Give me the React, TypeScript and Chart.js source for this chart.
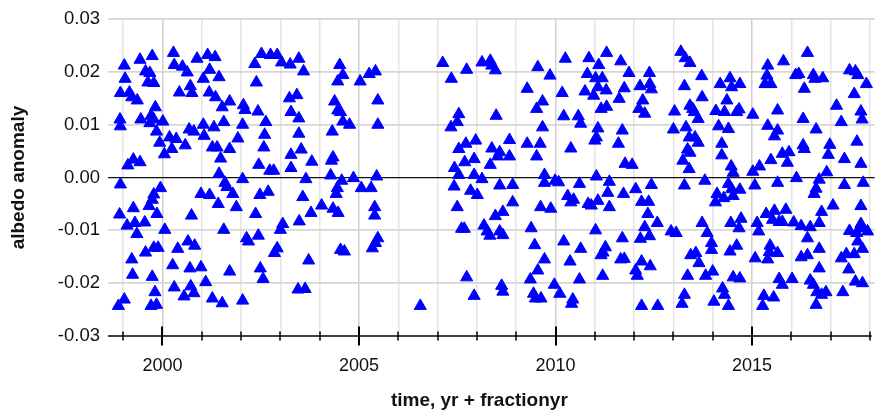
import { useEffect, useRef } from "react";
import { Chart, registerables } from "chart.js";

Chart.register(...registerables);

// Observation time (yr + fraction of year)
const years: number[] = [
  1999.03, 1999.05, 1999.43, 1999.74, 2000.28, 2000.30, 1999.57, 1999.68, 1999.63, 1999.78,
  2000.51, 2000.63, 1998.93, 1999.16, 1999.22, 1999.36, 2000.43, 2000.71, 2000.75, 1999.82,
  1998.92, 1998.93, 1999.45, 1999.71, 1999.78, 1999.68, 2000.01, 1999.85, 1999.93, 2000.18,
  2000.35, 2000.24, 2000.05, 2000.58, 2000.68, 2000.80, 1999.12, 1999.26, 1999.43, 1998.93,
  1999.95, 1999.78, 1999.74, 1999.66, 1999.26, 1998.91, 1999.10, 1999.30, 1999.55, 1999.35,
  1999.86, 2000.06, 2000.74, 1999.57, 1999.78, 1999.89, 1999.22, 1999.24, 1999.74, 2000.39,
  2000.26, 2000.65, 2000.82, 2000.70, 1999.81, 1999.03, 1998.88, 1999.71, 1999.85, 2000.30,
  2000.55, 2000.72, 2000.80,
  2000.88, 2001.15, 2001.34, 2001.20, 2001.04, 2001.44, 2001.19, 2001.35, 2001.52, 2001.71,
  2002.06, 2002.10, 2002.43, 2002.35, 2002.52, 2002.75, 2002.92, 2003.03, 2003.25, 2002.39,
  2003.23, 2003.27, 2001.04, 2001.06, 2001.31, 2001.56, 2002.04, 2002.63, 2002.60, 2001.92,
  2001.27, 2001.39, 2001.71, 2001.48, 2002.58, 2002.45, 2002.73, 2002.83, 2003.27, 2003.27,
  2001.44, 2002.04, 2001.59, 2001.64, 2001.79, 2000.98, 2001.20, 2001.42, 2001.88, 2002.48,
  2002.69, 2002.37, 2003.06, 2003.00, 2001.56, 2002.14, 2002.19, 2002.44, 2002.92, 2002.85,
  2000.98, 2001.71, 2002.49, 2002.56, 2001.10, 2001.27, 2001.52, 2002.04,
  2003.47, 2003.59, 2004.51, 2004.59, 2004.46, 2005.03, 2005.26, 2005.42, 2007.13, 2007.35,
  2003.42, 2003.47, 2005.48, 2004.38, 2004.46, 2004.53, 2004.59, 2004.76, 2005.48, 2003.47,
  2004.32, 2003.53, 2003.80, 2004.34, 2004.30, 2004.28, 2003.65, 2004.56, 2004.86, 2005.45,
  2004.45, 2004.42, 2005.06, 2005.31, 2003.57, 2004.05, 2004.34, 2004.47, 2003.78, 2005.40,
  2005.40, 2003.48, 2005.48, 2005.42, 2005.34, 2004.53, 2004.63, 2003.72, 2003.45, 2003.63,
  2006.56, 2007.34, 2007.54, 2007.50, 2007.54, 2007.43, 2007.54, 2007.42, 2007.50, 2007.61,
  2007.74, 2008.13, 2008.34, 2008.38, 2008.47, 2009.55, 2009.86, 2009.28, 2009.67, 2009.52,
  2008.49, 2009.67, 2007.97, 2007.72, 2008.38, 2008.58, 2008.53, 2008.83, 2008.83, 2007.93,
  2008.34, 2009.28, 2009.61, 2009.52, 2007.69, 2007.93, 2008.13, 2009.72, 2009.72, 2009.99,
  2008.58, 2008.91, 2007.84, 2008.01, 2008.91, 2008.66, 2008.47, 2009.62, 2009.88, 2007.68,
  2008.18, 2008.26, 2008.33, 2008.58, 2008.66, 2009.38, 2009.47, 2009.72, 2009.55, 2009.36,
  2007.74, 2008.63, 2008.66, 2007.93, 2009.44, 2009.49, 2009.63, 2009.97,
  2010.25, 2010.85, 2011.30, 2011.10, 2011.66, 2011.87, 2012.39, 2010.81, 2011.02, 2011.19,
  2011.08, 2011.29, 2010.97, 2010.75, 2011.75, 2011.62, 2010.17, 2012.15, 2012.40, 2012.44,
  2012.22, 2012.12, 2012.27, 2011.16, 2011.30, 2010.21, 2010.58, 2010.64, 2011.08, 2011.04,
  2011.00, 2011.70, 2011.60, 2010.39, 2011.77, 2011.95, 2010.08, 2010.61, 2011.04, 2011.37,
  2011.33, 2011.73, 2012.04, 2012.44, 2010.31, 2010.46, 2010.39, 2010.83, 2010.91, 2011.08,
  2011.37, 2012.19, 2012.37, 2012.35, 2012.27, 2012.39, 2012.16, 2011.02, 2011.70, 2010.21,
  2010.64, 2011.27, 2011.21, 2011.16, 2011.66, 2011.75, 2010.37, 2012.19, 2012.41, 2012.04,
  2012.08, 2011.20, 2010.61, 2010.11, 2010.44, 2010.41, 2012.19,
  2012.59, 2012.60, 2013.19, 2013.30, 2013.42, 2013.72, 2013.28, 2013.73, 2013.03, 2013.42,
  2013.49, 2013.53, 2013.63, 2013.32, 2013.00, 2013.40, 2013.55, 2013.63, 2013.36, 2013.42,
  2013.24, 2013.40, 2013.28, 2013.80, 2014.19, 2014.44, 2014.48, 2014.69, 2014.36, 2014.08,
  2014.30, 2014.67, 2014.61, 2015.02, 2014.15, 2014.40, 2014.23, 2014.23, 2014.47, 2014.52,
  2015.02, 2015.19, 2014.40, 2014.48, 2014.69, 2014.52, 2014.11, 2014.07, 2014.28, 2015.07,
  2014.46, 2014.72, 2014.67, 2013.73, 2013.86, 2013.97, 2013.97, 2012.94, 2013.07, 2015.13,
  2015.17, 2014.61, 2014.44, 2013.44, 2013.57, 2013.65, 2015.08, 2013.36, 2013.82, 2014.00,
  2014.52, 2014.69, 2014.25, 2014.30, 2013.28, 2013.22, 2014.03, 2014.40,
  2015.40, 2015.80, 2016.41, 2015.38, 2015.48, 2015.33, 2016.11, 2016.19, 2016.56, 2016.60,
  2016.80, 2016.33, 2017.48, 2017.63, 2017.69, 2017.91, 2017.60, 2017.15, 2017.27, 2017.77,
  2017.80, 2015.65, 2016.30, 2016.63, 2015.40, 2015.65, 2015.57, 2016.30, 2016.33, 2016.98,
  2016.94, 2017.67, 2015.77, 2015.94, 2015.90, 2015.48, 2017.35, 2017.77, 2016.90, 2016.13,
  2015.65, 2016.71, 2016.63, 2016.58, 2017.35, 2017.83, 2017.06, 2017.77, 2015.36, 2015.57,
  2015.86, 2015.52, 2015.69, 2015.77, 2016.06, 2016.25, 2016.48, 2016.71, 2016.77, 2017.48,
  2017.77, 2017.66, 2017.94, 2017.81, 2016.41, 2015.46, 2015.44, 2015.40, 2015.65, 2017.69,
  2017.81, 2016.25, 2016.41, 2016.71, 2017.27, 2017.40, 2017.60, 2017.46, 2016.71, 2016.02,
  2015.69, 2015.77, 2016.48, 2016.56, 2017.63, 2017.81, 2016.65, 2016.77, 2016.88, 2017.31,
  2015.30, 2015.55, 2015.27, 2016.63,
];

// Albedo anomaly for each observation
const anomaly: number[] = [
  0.0212, 0.0187, 0.0223, 0.0230, 0.0236, 0.0213, 0.0201, 0.0198, 0.0180, 0.0179,
  0.0210, 0.0199, 0.0160, 0.0161, 0.0152, 0.0146, 0.0161, 0.0173, 0.0160, 0.0133,
  0.0110, 0.0097, 0.0110, 0.0117, 0.0110, 0.0103, 0.0106, 0.0087, 0.0066, 0.0076,
  0.0073, 0.0054, 0.0044, 0.0061, 0.0091, 0.0087, 0.0023, 0.0034, 0.0029, -0.0013,
  -0.0020, -0.0032, -0.0042, -0.0054, -0.0058, -0.0070, -0.0091, -0.0086, -0.0085, -0.0107,
  -0.0069, -0.0099, -0.0072, -0.0142, -0.0133, -0.0133, -0.0155, -0.0184, -0.0188, -0.0135,
  -0.0166, -0.0121, -0.0129, -0.0172, -0.0217, -0.0231, -0.0243, -0.0243, -0.0241, -0.0208,
  -0.0225, -0.0206, -0.0219,
  0.0225, 0.0232, 0.0228, 0.0204, 0.0187, 0.0190, 0.0161, 0.0152, 0.0133, 0.0144,
  0.0137, 0.0128, 0.0125, 0.0215, 0.0234, 0.0232, 0.0232, 0.0218, 0.0214, 0.0180,
  0.0150, 0.0124, 0.0100, 0.0079, 0.0095, 0.0105, 0.0100, 0.0105, 0.0081, 0.0074,
  0.0057, 0.0057, 0.0054, 0.0036, 0.0057, 0.0024, 0.0013, 0.0013, 0.0043, 0.0018,
  0.0007, -0.0003, -0.0010, -0.0018, -0.0031, -0.0031, -0.0033, -0.0050, -0.0056, -0.0033,
  -0.0027, -0.0069, -0.0088, -0.0099, -0.0099, -0.0115, -0.0121, -0.0110, -0.0134, -0.0143,
  -0.0170, -0.0178, -0.0172, -0.0192, -0.0198, -0.0229, -0.0238, -0.0233,
  0.0225, 0.0201, 0.0213, 0.0194, 0.0182, 0.0182, 0.0196, 0.0201, 0.0217, 0.0187,
  0.0156, 0.0112, 0.0146, 0.0144, 0.0127, 0.0124, 0.0106, 0.0100, 0.0100, 0.0083,
  0.0087, 0.0053, 0.0030, 0.0038, 0.0032, 0.0004, -0.0003, -0.0006, -0.0001, 0.0002,
  -0.0020, -0.0031, -0.0020, -0.0020, -0.0037, -0.0053, -0.0059, -0.0067, -0.0067, -0.0056,
  -0.0072, -0.0083, -0.0115, -0.0124, -0.0134, -0.0137, -0.0140, -0.0157, -0.0212, -0.0211,
  -0.0243, 0.0095, 0.0120, 0.0105, 0.0054, 0.0018, 0.0005, -0.0017, -0.0056, -0.0097,
  0.0204, 0.0218, 0.0221, 0.0212, 0.0203, 0.0209, 0.0193, 0.0168, 0.0144, 0.0130,
  0.0117, 0.0095, 0.0070, 0.0064, 0.0055, 0.0048, 0.0040, 0.0071, 0.0040, 0.0035,
  0.0024, 0.0064, 0.0064, 0.0040, 0.0029, 0.0005, -0.0003, 0.0005, -0.0010, -0.0006,
  -0.0015, -0.0014, -0.0025, -0.0033, -0.0047, -0.0065, -0.0073, -0.0056, -0.0059, -0.0097,
  -0.0091, -0.0102, -0.0110, -0.0102, -0.0109, -0.0096, -0.0128, -0.0155, -0.0176, -0.0193,
  -0.0189, -0.0205, -0.0216, -0.0224, -0.0220, -0.0229, -0.0229, -0.0203,
  0.0225, 0.0226, 0.0236, 0.0213, 0.0220, 0.0198, 0.0198, 0.0196, 0.0188, 0.0188,
  0.0171, 0.0165, 0.0155, 0.0163, 0.0169, 0.0149, 0.0160, 0.0173, 0.0177, 0.0167,
  0.0146, 0.0130, 0.0121, 0.0130, 0.0134, 0.0116, 0.0116, 0.0102, 0.0093, 0.0076,
  0.0070, 0.0089, 0.0064, 0.0055, 0.0026, 0.0024, -0.0009, -0.0012, 0.0002, -0.0008,
  -0.0029, -0.0031, -0.0022, -0.0014, -0.0035, -0.0042, -0.0047, -0.0050, -0.0053, -0.0044,
  -0.0056, -0.0046, -0.0046, -0.0069, -0.0094, -0.0111, -0.0116, -0.0100, -0.0115, -0.0121,
  -0.0135, -0.0132, -0.0142, -0.0147, -0.0155, -0.0154, -0.0159, -0.0159, -0.0168, -0.0176,
  -0.0186, -0.0186, -0.0193, -0.0220, -0.0231, -0.0239, -0.0243,
  -0.0086, -0.0243, 0.0238, 0.0226, 0.0217, 0.0192, 0.0173, 0.0152, 0.0125, 0.0136,
  0.0130, 0.0124, 0.0111, 0.0095, 0.0091, 0.0076, 0.0076, 0.0066, 0.0053, 0.0047,
  0.0032, 0.0016, -0.0015, -0.0006, 0.0177, 0.0188, 0.0171, 0.0177, 0.0146, 0.0126,
  0.0124, 0.0129, 0.0124, 0.0119, 0.0097, 0.0092, 0.0064, 0.0042, 0.0021, 0.0009,
  0.0011, 0.0021, -0.0012, -0.0022, -0.0023, -0.0035, -0.0031, -0.0047, -0.0039, -0.0015,
  -0.0086, -0.0078, -0.0096, -0.0086, -0.0105, -0.0124, -0.0137, -0.0102, -0.0105, -0.0086,
  -0.0102, -0.0129, -0.0140, -0.0147, -0.0143, -0.0162, -0.0153, -0.0186, -0.0186, -0.0178,
  -0.0189, -0.0191, -0.0210, -0.0222, -0.0222, -0.0239, -0.0235, -0.0243,
  0.0212, 0.0220, 0.0236, 0.0193, 0.0177, 0.0177, 0.0194, 0.0196, 0.0194, 0.0187,
  0.0188, 0.0168, 0.0203, 0.0201, 0.0194, 0.0177, 0.0158, 0.0136, 0.0105, 0.0125,
  0.0110, 0.0127, 0.0111, 0.0091, 0.0098, 0.0089, 0.0078, 0.0061, 0.0054, 0.0062,
  0.0043, 0.0068, 0.0045, 0.0048, 0.0028, 0.0033, 0.0035, 0.0026, 0.0010, -0.0001,
  -0.0010, -0.0004, -0.0021, -0.0031, -0.0014, -0.0010, -0.0053, -0.0054, -0.0069, -0.0063,
  -0.0061, -0.0080, -0.0084, -0.0084, -0.0085, -0.0092, -0.0094, -0.0086, -0.0065, -0.0101,
  -0.0088, -0.0105, -0.0102, -0.0096, -0.0115, -0.0129, -0.0141, -0.0155, -0.0143, -0.0121,
  -0.0135, -0.0151, -0.0147, -0.0135, -0.0153, -0.0145, -0.0145, -0.0174, -0.0172, -0.0192,
  -0.0192, -0.0203, -0.0195, -0.0203, -0.0197, -0.0200, -0.0217, -0.0222, -0.0217, -0.0217,
  -0.0224, -0.0227, -0.0243, -0.0241,
];

const yTickValues = [-0.03, -0.02, -0.01, 0, 0.01, 0.02, 0.03];
const xTickYears = [1999, 2000, 2001, 2002, 2003, 2004, 2005, 2006, 2007, 2008, 2009, 2010, 2011, 2012, 2013, 2014, 2015, 2016, 2017, 2018];
const xLabelYears = [2000, 2005, 2010, 2015];
const xTitle = "time, yr + fractionyr";
const yTitle = "albedo anomaly";

const FONT = "'Liberation Sans', Arial, Helvetica, sans-serif";

const axisCrossPlugin = {
  id: "axisCross",
  afterDraw(chart: any) {
    const { ctx, chartArea, scales } = chart;
    const xs = scales.x;
    const yb = chartArea.bottom;
    ctx.save();
    ctx.strokeStyle = "#000";
    ctx.lineWidth = 1.5;
    ctx.beginPath();
    ctx.moveTo(chartArea.left, yb);
    ctx.lineTo(chartArea.right - 3, yb);
    ctx.stroke();
    for (const v of xTickYears) {
      const px = Math.round(xs.getPixelForValue(v));
      const major = v % 5 === 0;
      ctx.lineWidth = major ? 2 : 1.5;
      const h = major ? 9.5 : 4.5;
      ctx.beginPath();
      ctx.moveTo(px, yb - h);
      ctx.lineTo(px, yb + h);
      ctx.stroke();
    }
    // x-axis title (sits slightly left of the plot centre, as in the reference)
    ctx.fillStyle = "#111";
    ctx.font = `bold 19px ${FONT}`;
    ctx.textAlign = "center";
    ctx.textBaseline = "middle";
    const cx = (chartArea.left + chartArea.right) / 2 - 12;
    ctx.fillText(xTitle, cx, yb + 65);
    ctx.restore();
  },
};

export default function App() {
  const canvasRef = useRef<HTMLCanvasElement | null>(null);

  useEffect(() => {
    document.body.style.margin = "0";
    const canvas = canvasRef.current;
    if (!canvas) return;
    const n = Math.min(years.length, anomaly.length);
    const points = [] as { x: number; y: number }[];
    for (let i = 0; i < n; i++) points.push({ x: years[i], y: anomaly[i] });

    const chart = new Chart(canvas, {
      type: "scatter",
      data: {
        datasets: [
          {
            data: points,
            pointStyle: "triangle",
            pointRadius: 7,
            pointHoverRadius: 7,
            backgroundColor: "#0000ff",
            borderColor: "#0000ff",
            borderWidth: 1,
          },
        ],
      },
      options: {
        animation: false,
        responsive: false,
        devicePixelRatio: 1,
        layout: { padding: { top: 16, right: 0, bottom: 0, left: 0 } },
        plugins: {
          legend: { display: false },
          tooltip: { enabled: false },
        },
        scales: {
          x: {
            type: "linear",
            min: 1998.615,
            max: 2018.12,
            afterFit: (s: any) => {
              s.height = 80;
            },
            afterBuildTicks: (s: any) => {
              s.ticks = xTickYears.map((v) => ({ value: v }));
            },
            ticks: {
              autoSkip: false,
              maxRotation: 0,
              padding: 19,
              color: "#111",
              font: { family: FONT, size: 18 },
              callback: (v: any) => (xLabelYears.includes(Number(v)) ? String(v) : ""),
            },
            grid: {
              drawTicks: false,
              lineWidth: 1.5,
              color: (c: any) =>
                c.tick && c.tick.value % 5 === 0 ? "#cfcfcf" : "#e4e4e4",
            },
            border: { display: false },
            title: { display: false },
          },
          y: {
            type: "linear",
            min: -0.03,
            max: 0.03,
            afterFit: (s: any) => {
              s.width = 108;
            },
            afterBuildTicks: (s: any) => {
              s.ticks = yTickValues.map((v) => ({ value: v }));
            },
            ticks: {
              padding: 8,
              color: "#111",
              font: { family: FONT, size: 18.5 },
              callback: (v: any) => Number(v).toFixed(2),
            },
            grid: {
              drawTicks: false,
              color: (c: any) => {
                const v = c.tick ? c.tick.value : 1;
                if (Math.abs(v) < 1e-9) return "#111";
                if (v < -0.0295) return "rgba(0,0,0,0)";
                return "#d6d6d6";
              },
              lineWidth: (c: any) => {
                const v = c.tick ? c.tick.value : 1;
                return Math.abs(v) < 1e-9 ? 1.3 : 1.8;
              },
            },
            border: { display: false },
            title: {
              display: true,
              text: yTitle,
              color: "#111",
              font: { family: FONT, size: 19, weight: "bold" },
              padding: { top: 7, bottom: 0 },
            },
          },
        },
      },
      plugins: [axisCrossPlugin],
    });

    return () => chart.destroy();
  }, []);

  return (
    <div style={{ width: 889, height: 416 }}>
      <canvas ref={canvasRef} width={889} height={416} style={{ display: "block" }} />
    </div>
  );
}
